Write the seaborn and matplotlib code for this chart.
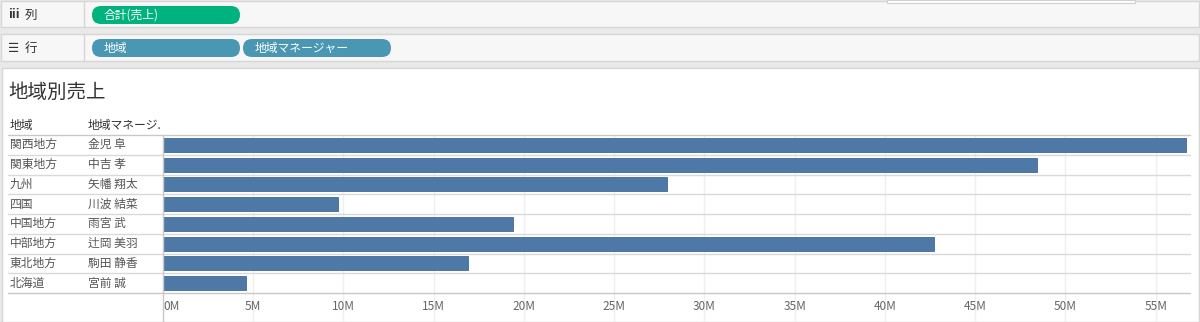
import matplotlib
matplotlib.use("Agg")
import matplotlib.pyplot as plt
from matplotlib.patches import FancyBboxPatch, Rectangle
from matplotlib.lines import Line2D
import matplotlib.transforms as mtransforms
import seaborn as sns
import pandas as pd

# ---- data ----
regions = ["関西地方", "関東地方", "九州", "四国", "中国地方", "中部地方", "東北地方", "北海道"]
managers = ["金児 阜", "中吉 孝", "矢幡 翔太", "川波 結菜", "雨宮 武", "辻岡 美羽", "駒田 静香", "宮前 誠"]
sales_m = [56.7, 48.4, 27.9, 9.7, 19.4, 42.7, 16.9, 4.6]
x_ticks = [0, 5, 10, 15, 20, 25, 30, 35, 40, 45, 50, 55]
x_tick_labels = ["0M", "5M", "10M", "15M", "20M", "25M", "30M", "35M", "40M", "45M", "50M", "55M"]
col_pills = ["合計(売上)"]
row_pills = ["地域", "地域マネージャー"]
title = "地域別売上"
headers = ["地域", "地域マネージ."]

sns.set_theme(style="white")
plt.rcParams["font.family"] = ["Noto Sans CJK JP", "DejaVu Sans"]

W, H = 1200, 322
fig = plt.figure(figsize=(W / 100, H / 100), dpi=100)
fig.patch.set_facecolor("#e9e9e9")

def fx(x):
    return x / W

def fy(y):
    return 1 - y / H

def rect(x0, y0, x1, y1, fc, ec="none", lw=1.0, z=0):
    fig.patches.append(Rectangle((fx(x0), fy(y1)), fx(x1 - x0), (y1 - y0) / H,
                                 transform=fig.transFigure, facecolor=fc,
                                 edgecolor=ec, linewidth=lw, zorder=z))

def pill(x0, x1, yc, color, text):
    h = 18
    fig.patches.append(FancyBboxPatch((fx(x0 + 9), fy(yc + h / 2)), fx(x1 - x0 - 18), h / H,
                                      boxstyle=f"round,pad=0,rounding_size={9 / H}",
                                      mutation_aspect=H / W,
                                      transform=fig.transFigure, facecolor=color,
                                      edgecolor="none", zorder=2))
    fig.patches.append(FancyBboxPatch((fx(x0), fy(yc + h / 2)), fx(x1 - x0), h / H,
                                      boxstyle=f"round,pad=0,rounding_size={9 / W}",
                                      mutation_aspect=W / H,
                                      transform=fig.transFigure, facecolor=color,
                                      edgecolor="none", zorder=2))
    fig.text(fx(x0 + 12), fy(yc + 0.5), text, color="white", fontsize=8.5,
             va="center", ha="left", zorder=3)

# shelves
rect(1, 1, 1199, 27, "#f7f7f7", ec="#d6d6d6", z=1)
rect(1, 34, 1199, 61, "#f7f7f7", ec="#d6d6d6", z=1)
fig.add_artist(Line2D([fx(84), fx(84)], [fy(1), fy(27)], color="#d6d6d6", lw=1, transform=fig.transFigure, zorder=2))
fig.add_artist(Line2D([fx(84), fx(84)], [fy(34), fy(61)], color="#d6d6d6", lw=1, transform=fig.transFigure, zorder=2))
rect(887, 0, 1135, 3, "white", ec="#d0d0d0", lw=0.8, z=2)
fig.text(fx(8), fy(15), "iii", fontsize=9, color="#333333", va="center", ha="left", fontweight="bold")
fig.text(fx(25), fy(15), "列", fontsize=9, color="#333333", va="center", ha="left")
fig.text(fx(8), fy(48), "☰", fontsize=9, color="#333333", va="center", ha="left",
         family=["DejaVu Sans", "Noto Sans CJK JP"])
fig.text(fx(25), fy(48), "行", fontsize=9, color="#333333", va="center", ha="left")
pill(92, 240, 15, "#00b27d", col_pills[0])
pill(92, 240, 48, "#4a97b3", row_pills[0])
pill(243, 391, 48, "#4a97b3", row_pills[1])

# chart panel
rect(2, 68, 1199, 322, "white", ec="#d6d6d6", z=1)
fig.text(fx(8), fy(92), title, fontsize=14, color="#333333", va="center", ha="left")
fig.text(fx(10), fy(126), headers[0], fontsize=8.5, color="#333333", va="center", ha="left")
fig.text(fx(88), fy(126), headers[1], fontsize=8.5, color="#333333", va="center", ha="left")

# bar axes
x0, x1, y0, y1 = 163, 1190, 135, 293
ax = fig.add_axes([fx(x0), fy(y1), fx(x1 - x0), (y1 - y0) / H], zorder=3)
ax.patch.set_alpha(0)
df = pd.DataFrame({"region": regions, "manager": managers, "sales": sales_m})
sns.barplot(data=df, x="sales", y="region", orient="h", color="#4e79a7",
            saturation=1, width=0.72, ax=ax, edgecolor="#3f6a96", linewidth=0.6)
ax.set_xlim(0, 56.9)
ax.set_ylim(len(regions) - 0.5, -0.5)
ax.set_xlabel("")
ax.set_ylabel("")
for s in ax.spines.values():
    s.set_visible(False)
ax.set_xticks(x_ticks, labels=x_tick_labels)
ax.xaxis.grid(True, color="#efefef", lw=1)
ax.set_axisbelow(True)
ax.tick_params(axis="x", length=0, pad=5, labelsize=8.5, labelcolor="#666666")
ax.tick_params(axis="y", length=0, pad=(x0 - 10) * 0.72, labelsize=8.5, labelcolor="#555555")
for t in ax.get_yticklabels():
    t.set_ha("left")
    t.set_va("center")
ax.get_xticklabels()[0].set_ha("left")

# manager column
tr = mtransforms.blended_transform_factory(fig.transFigure, ax.transData)
for i, m in enumerate(managers):
    ax.text(fx(88), i, m, transform=tr, fontsize=8.5, color="#555555", va="center", ha="left", clip_on=False)

# row separators
lf = (8 - x0) / (x1 - x0)
btr = mtransforms.blended_transform_factory(ax.transAxes, ax.transData)
for b in range(len(regions) + 1):
    ax.add_line(Line2D([lf, 1.0], [b - 0.5, b - 0.5], transform=btr,
                       color="#c8c8c8" if b in (0, len(regions)) else "#d9d9d9",
                       lw=1, clip_on=False, zorder=1))

# lower grid area below rows
ax2 = fig.add_axes([fx(x0), 0, fx(x1 - x0), (H - y1) / H], sharex=ax, zorder=2)
ax2.patch.set_alpha(0)
for s in ax2.spines.values():
    s.set_visible(False)
ax2.xaxis.grid(True, color="#efefef", lw=1)
ax2.set_yticks([])
ax2.tick_params(axis="x", length=0, labelbottom=False)

# vertical axis divider
fig.add_artist(Line2D([fx(x0), fx(x0)], [0, fy(y0)], color="#c8c8c8", lw=1, transform=fig.transFigure, zorder=4))

fig.savefig("out.png", dpi=100, facecolor=fig.get_facecolor())
